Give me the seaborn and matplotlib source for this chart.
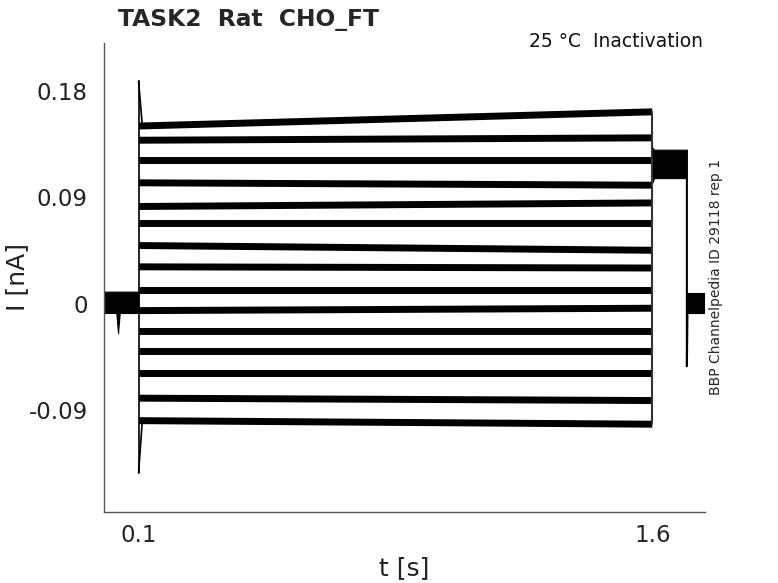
import numpy as np
import pandas as pd
import matplotlib
matplotlib.use("Agg")
import matplotlib.pyplot as plt
import seaborn as sns

# sweep levels (nA) at start / end of the test pulse, top to bottom
level_start = [0.150, 0.138, 0.121, 0.102, 0.082, 0.068, 0.049, 0.031, 0.011,
               -0.006, -0.023, -0.040, -0.059, -0.080, -0.099]
level_end = [0.162, 0.140, 0.121, 0.100, 0.085, 0.068, 0.045, 0.030, 0.011,
             -0.004, -0.023, -0.040, -0.059, -0.082, -0.102]

pulse_on = 0.1
pulse_off = 1.6

# onset transient (nA)
spike_hi = 0.188
spike_lo = -0.143
spike_t = [0.1, 0.111]

# holding current before the pulse (envelope)
pre_t = [0.0, 0.035, 0.040, 0.045, 0.1]
pre_lo = [-0.008, -0.008, -0.025, -0.008, -0.008]
pre_hi = [0.010, 0.010, 0.010, 0.010, 0.010]

# tail after the pulse (envelope)
tail_t = [1.6, 1.605, 1.701]
tail_lo = [0.102, 0.106, 0.106]
tail_hi = [0.132, 0.130, 0.130]

# dip back to holding
dip_t = [1.701, 1.701, 1.703]
dip_I = [0.106, -0.053, 0.0]

post_t = [1.702, 1.751]
post_lo = [-0.008, -0.008]
post_hi = [0.009, 0.009]

xticks = [0.1, 1.6]
yticks = [-0.09, 0, 0.09, 0.18]
ytick_labels = ['-0.09', '0', '0.09', '0.18']

sns.set_style("white")
plt.rcParams['font.family'] = ['DejaVu Sans']

rows = []
for i, (a, b) in enumerate(zip(level_start, level_end)):
    rows.append({'sweep': i, 't': pulse_on + 0.002, 'I': a})
    rows.append({'sweep': i, 't': pulse_off, 'I': b})
df = pd.DataFrame(rows)

fig = plt.figure(figsize=(7.78, 5.83), dpi=100)
ax = fig.add_axes([0.1341, 0.1218, 0.7721, 0.8045])

gray = '#555555'
ax.fill_between(pre_t, pre_lo, pre_hi, color='k', lw=0.8)
ax.fill_between(tail_t, tail_lo, tail_hi, color='k', lw=0.8)
ax.fill_between(post_t, post_lo, post_hi, color='k', lw=0.8)

sns.lineplot(data=df, x='t', y='I', units='sweep', estimator=None,
             color='k', lw=5, solid_capstyle='butt', ax=ax, legend=False)

# onset / offset jumps
ax.plot([pulse_on, pulse_on], [spike_lo, spike_hi], color='k', lw=1.2)
ax.plot(spike_t, [spike_hi, level_start[0]], color='k', lw=1.2)
ax.plot(spike_t, [spike_lo, level_start[-1]], color='k', lw=1.2)
ax.plot([pulse_off, pulse_off], [level_end[-1], level_end[0]], color='#333333', lw=1.5)
ax.plot(dip_t, dip_I, color='k', lw=1.5)

ax.set_xlim(0, 1.754)
ax.set_ylim(-0.1762, 0.2202)
ax.set_xticks(xticks)
ax.set_xticklabels([str(x) for x in xticks])
ax.set_yticks(yticks)
ax.set_yticklabels(ytick_labels)
ax.set_xlabel('')
ax.set_ylabel('')
ax.tick_params(direction='in', length=6, width=1, color=gray,
               labelsize=16.5, labelcolor='#222222')
ax.tick_params(axis='y', pad=12)
ax.tick_params(axis='x', pad=9)
for s in ['top', 'right']:
    ax.spines[s].set_visible(False)
for s in ['left', 'bottom']:
    ax.spines[s].set_color(gray)
    ax.spines[s].set_linewidth(1)

fig.text(118 / 778, 1 - 26 / 583, 'TASK2  Rat  CHO_FT', fontsize=16.8,
         fontweight='bold', ha='left', va='baseline')
fig.text(703 / 778, 1 - 47 / 583, '25 °C  Inactivation', fontsize=13.5,
         ha='right', va='baseline', color='#111111')
fig.text(404 / 778, 1 - 575 / 583, 't [s]', fontsize=18, ha='center',
         va='baseline', color='#222222')
fig.text(17 / 778, 1 - 277 / 583, 'I [nA]', fontsize=18, rotation=90,
         ha='center', va='center', color='#222222')
fig.text(716 / 778, 1 - 277 / 583, 'BBP Channelpedia ID 29118 rep 1',
         fontsize=10, rotation=90, ha='center', va='center')

fig.savefig('out.png', dpi=100)
